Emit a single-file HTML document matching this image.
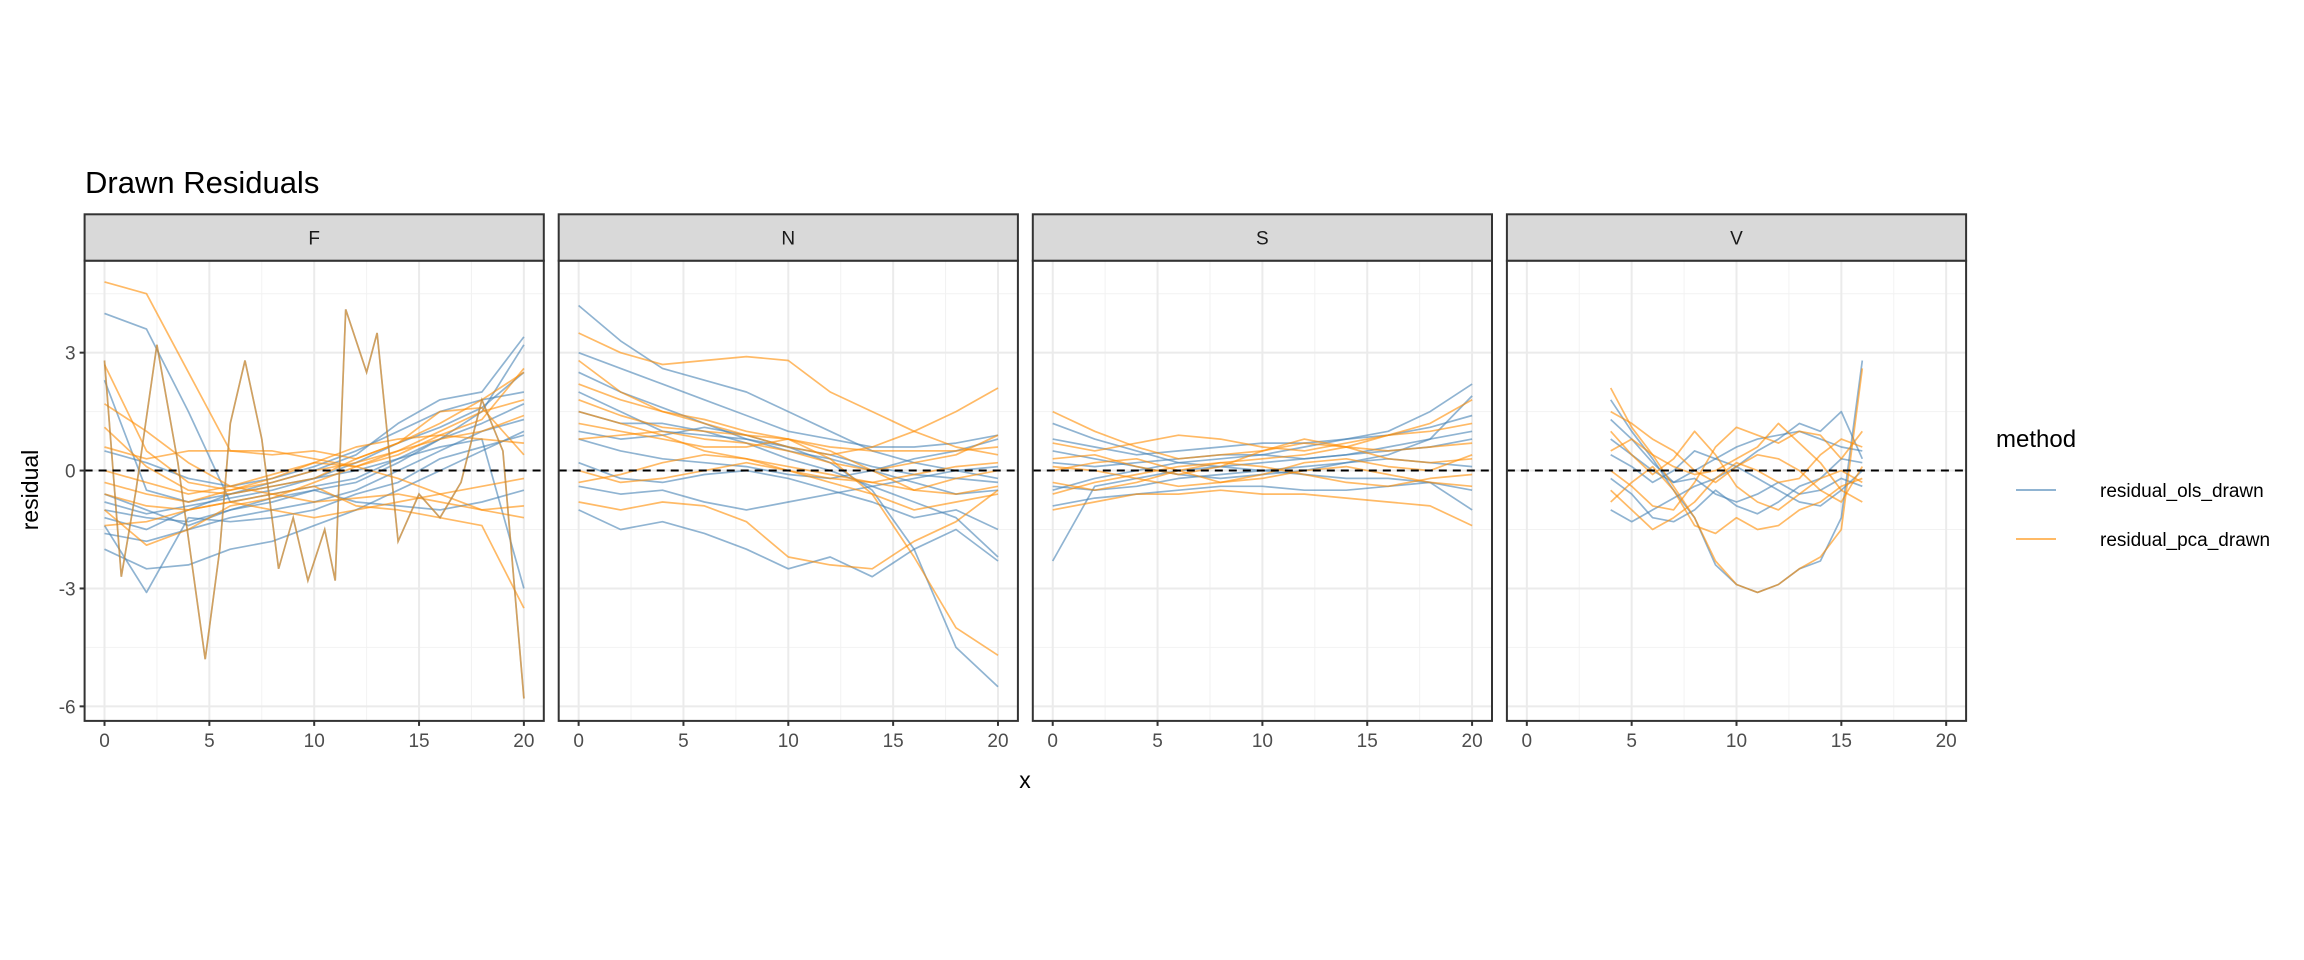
<!DOCTYPE html>
<html><head><meta charset="utf-8"><style>
html,body{margin:0;padding:0;background:#fff;}
svg{display:block;font-family:"Liberation Sans",Arial,sans-serif;}
</style></head><body>
<svg id="chart" width="2304" height="960" viewBox="0 0 2304 960" xmlns="http://www.w3.org/2000/svg">
<rect width="2304" height="960" fill="#fff"/>
<text x="85" y="193" font-size="31" fill="#000">Drawn Residuals</text>
<text transform="translate(38,490) rotate(-90)" text-anchor="middle" font-size="23" fill="#000">residual</text>
<text x="1025" y="788" text-anchor="middle" font-size="23" fill="#000">x</text>
<g id="panels"></g>
<g>
<text x="1996" y="447" font-size="24" fill="#000">method</text>
<line x1="2016" x2="2056" y1="490" y2="490" stroke="#4682B4" stroke-opacity="0.6" stroke-width="2"/>
<text x="2100" y="497" font-size="19" fill="#000">residual_ols_drawn</text>
<line x1="2016" x2="2056" y1="539" y2="539" stroke="#FF8C00" stroke-opacity="0.6" stroke-width="2"/>
<text x="2100" y="546" font-size="19" fill="#000">residual_pca_drawn</text>
</g>
</svg>
<script>
const facets = ["F","N","S","V"];
const xGrid = [0,2,4,6,8,10,12,14,16,18,20];
const xGridV = [4,5,6,7,8,9,10,11,12,13,14,15,16];
const xTicks = [0,5,10,15,20];
const yTicks = [-6,-3,0,3];
const yTickLabels = ["-6","-3","0","3"];

const olsF = [
[4.0,3.6,1.5,-0.8,-0.6,-0.4,-0.2,0.3,0.8,1.5,3.2],
[2.3,-0.5,-0.8,-0.6,-0.3,0,0.4,1.2,1.8,2.0,3.4],
[-1.0,-1.2,-1.3,-1.0,-0.8,-0.5,-0.3,0.2,0.8,1.2,1.7],
[-1.6,-1.8,-1.5,-1.2,-1.0,-0.8,-0.5,0,0.5,1.0,1.3],
[-2.0,-2.5,-2.4,-2.0,-1.8,-1.4,-1.0,-0.5,0,0.5,1.0],
[-0.6,-1.0,-1.4,-1.0,-0.7,-0.5,-0.8,-0.9,-1.0,-0.8,-0.5],
[0.5,0.2,-0.2,-0.4,-0.2,0.1,0.5,1.0,1.5,1.8,2.0],
[-1.2,-1.5,-1.0,-0.6,-0.4,-0.2,0,0.3,0.6,0.8,-3.0],
[-0.8,-1.1,-0.9,-0.7,-0.5,-0.2,0.2,0.7,1.1,1.6,2.5],
[-1.4,-3.1,-1.2,-1.3,-1.2,-1.0,-0.6,-0.3,0.3,0.6,0.9]];
const pcaF = [
[4.8,4.5,2.5,0.5,0.4,0.5,0.3,0.7,1.2,1.8,2.5],
[2.7,0.5,-0.3,-0.5,-0.2,0.2,0.1,0.4,0.9,1.3,2.6],
[-0.3,-0.6,-0.8,-0.5,-0.3,0,0.2,0.5,0.8,1.0,1.4],
[-1.4,-1.3,-1.0,-0.8,-1.0,-1.2,-1.0,-0.8,-0.6,-0.4,-0.2],
[-1.0,-1.9,-1.5,-0.9,-0.7,-0.3,0.1,0.5,1.0,1.5,1.8],
[0.6,0.3,0.5,0.5,0.5,0.3,0.1,-0.2,-0.6,-1.0,-1.2],
[1.7,1.0,0.2,-0.4,-0.6,-0.8,-0.7,-0.6,-0.8,-1.0,-0.9],
[0.0,-0.3,-0.6,-0.4,-0.1,0.2,0.6,0.8,0.9,0.8,0.7],
[-0.6,-0.9,-1.0,-0.8,-0.6,-0.4,-0.9,-1.0,-1.2,-1.4,-3.5],
[1.1,0.1,-0.5,-0.6,-0.4,-0.2,0.3,0.7,1.5,1.6,0.4]];
const spikeFx = [0,0.8,1.5,2.5,3.5,4.8,5.5,6.0,6.7,7.5,8.3,9.0,9.7,10.5,11.0,11.5,12.5,13.0,14.0,15.0,16.0,17.0,18.0,19.0,20.0];
const spikeFy = [2.8,-2.7,-0.5,3.2,0.2,-4.8,-2.0,1.2,2.8,0.8,-2.5,-1.2,-2.8,-1.5,-2.8,4.1,2.5,3.5,-1.8,-0.6,-1.2,-0.3,1.8,0.5,-5.8];

const olsN = [
[4.2,3.3,2.6,2.3,2.0,1.5,1.0,0.5,0.2,0.0,-0.2],
[2.0,1.5,1.0,0.9,0.8,0.6,0.2,-0.5,-2.0,-4.5,-5.5],
[1.5,1.2,1.2,1.0,0.7,0.3,0.0,-0.4,-0.8,-1.2,-2.2],
[0.2,-0.2,-0.3,-0.1,0,-0.2,-0.5,-0.8,-1.2,-1.0,-1.5],
[-0.4,-0.6,-0.5,-0.8,-1.0,-0.8,-0.6,-0.4,-0.2,0.0,0.1],
[1.0,0.8,0.9,1.1,0.9,0.6,0.4,0.1,-0.1,-0.2,-0.3],
[3.0,2.6,2.2,1.8,1.4,1.0,0.8,0.6,0.6,0.7,0.9],
[-1.0,-1.5,-1.3,-1.6,-2.0,-2.5,-2.2,-2.7,-2.0,-1.5,-2.3],
[0.8,0.5,0.3,0.2,0.1,-0.1,-0.2,0,0.3,0.5,0.8],
[2.5,2.0,1.6,1.2,0.8,0.5,0.3,0.0,-0.3,-0.6,-0.5]];
const pcaN = [
[3.5,3.0,2.7,2.8,2.9,2.8,2.0,1.5,1.0,0.6,0.4],
[1.8,1.4,1.1,1.0,0.9,0.8,0.3,-0.6,-2.2,-4.0,-4.7],
[2.8,2.0,1.5,1.2,0.9,0.6,0.4,0.6,1.0,1.5,2.1],
[-0.8,-1.0,-0.8,-0.9,-1.3,-2.2,-2.4,-2.5,-1.8,-1.3,-0.5],
[1.2,1.0,0.8,0.6,0.6,0.8,0.5,0.0,-0.5,-0.6,-0.4],
[0.0,-0.3,-0.2,0.0,0.2,0.0,-0.3,-0.6,-1.0,-0.8,-0.6],
[0.8,0.9,1.0,0.8,0.7,0.5,0.2,0.0,0.2,0.4,0.9],
[-0.3,-0.1,0.2,0.4,0.3,0.1,-0.1,-0.3,-0.5,-0.2,0.0],
[2.2,1.8,1.5,1.3,1.0,0.8,0.6,0.5,0.5,0.5,0.6],
[1.5,1.2,0.9,0.5,0.3,0.0,-0.2,-0.3,-0.1,0.1,0.2]];

const olsS = [
[-0.5,-0.2,0,0.2,0.3,0.4,0.6,0.8,1.0,1.5,2.2],
[0.8,0.6,0.4,0.5,0.6,0.7,0.7,0.8,0.9,1.1,1.4],
[-0.4,-0.5,-0.4,-0.2,-0.1,0,0.1,0.2,0.3,0.2,0.1],
[1.2,0.8,0.5,0.2,0.1,0.0,-0.1,-0.2,-0.2,-0.3,-0.5],
[-0.9,-0.7,-0.6,-0.5,-0.4,-0.4,-0.5,-0.5,-0.4,-0.3,-1.0],
[0.2,0.1,0.2,0.3,0.4,0.4,0.3,0.4,0.6,0.8,1.0],
[-2.3,-0.4,-0.2,0.0,0.1,0.2,0.3,0.4,0.5,0.6,0.8],
[0.5,0.3,0.1,-0.1,-0.2,-0.1,0.0,0.2,0.4,0.8,1.9]];
const pcaS = [
[-0.6,-0.3,-0.1,0.1,0.2,0.3,0.4,0.6,0.9,1.2,1.8],
[1.5,1.0,0.6,0.3,0.4,0.5,0.7,0.6,0.5,0.6,0.7],
[-1.0,-0.8,-0.6,-0.6,-0.5,-0.6,-0.6,-0.7,-0.8,-0.9,-1.4],
[0.3,0.4,0.1,-0.1,0.1,0.5,0.8,0.6,0.3,0.2,0.3],
[0.0,0.2,0.3,0.0,-0.3,-0.2,0.0,0.1,-0.1,-0.3,-0.4],
[0.7,0.5,0.7,0.9,0.8,0.6,0.5,0.7,0.9,1.0,1.2],
[-0.3,-0.5,-0.3,0.0,0.2,0.1,-0.1,-0.3,-0.4,-0.2,-0.1],
[0.1,0.0,-0.2,-0.4,-0.3,-0.1,0.2,0.3,0.1,0.0,0.4]];

const olsV = [
[1.8,1.0,0.3,-0.5,-1.2,-2.4,-2.9,-3.1,-2.9,-2.5,-2.3,-1.2,2.8],
[1.3,0.8,0.2,-0.3,0.0,0.3,0.6,0.8,0.9,1.0,0.8,0.6,0.5],
[-0.2,-0.6,-1.2,-1.3,-1.0,-0.5,-0.9,-1.1,-0.8,-0.4,-0.2,0.3,0.2],
[0.4,0.1,-0.3,0.0,0.5,0.3,0.1,-0.2,-0.5,-0.8,-0.9,-0.5,0.0],
[-1.0,-1.3,-1.0,-0.7,-0.4,-0.2,0.1,0.5,0.8,1.2,1.0,1.5,0.3],
[0.8,0.4,0.0,-0.3,-0.2,-0.6,-0.8,-0.6,-0.3,-0.6,-0.5,-0.2,-0.4]];
const pcaV = [
[2.1,1.1,0.4,-0.4,-1.2,-2.3,-2.9,-3.1,-2.9,-2.5,-2.2,-1.5,2.6],
[0.0,-0.4,-0.9,-1.0,-0.3,0.6,1.1,0.9,0.7,1.0,0.9,0.3,1.0],
[1.0,0.4,-0.1,0.3,1.0,0.4,-0.4,-0.8,-1.0,-0.6,-0.2,0.0,-0.3],
[-0.5,-1.0,-1.5,-1.2,-0.8,-0.2,0.2,0.0,-0.3,-0.2,0.4,0.8,0.6],
[0.5,0.8,0.4,0.1,-0.1,0.0,0.3,0.6,1.2,0.7,0.2,-0.5,-0.8],
[-0.8,-0.3,0.1,-0.5,-1.4,-1.6,-1.2,-1.5,-1.4,-1.0,-0.8,-0.4,-0.2],
[1.5,1.2,0.8,0.5,0.0,-0.3,0.1,0.4,0.3,0.0,-0.5,-0.8,0.1]];

const NS = "http://www.w3.org/2000/svg";
const panelW = 459.2, pitch = 474.1, left0 = 84.6;
const pTop = 260.7, pBot = 720.9, sTop = 214.3;
const xMin = -0.95, xMax = 20.95, yMin = -6.37, yMax = 5.34;
function sx(x, L){ return L + (x - xMin) / (xMax - xMin) * panelW; }
function sy(y){ return pBot - (y - yMin) / (yMax - yMin) * (pBot - pTop); }
function el(tag, attrs, parent){ const e = document.createElementNS(NS, tag); for (const k in attrs) e.setAttribute(k, attrs[k]); parent.appendChild(e); return e; }

const panelsG = document.getElementById("panels");
const data = {F:[olsF,pcaF,xGrid], N:[olsN,pcaN,xGrid], S:[olsS,pcaS,xGrid], V:[olsV,pcaV,xGridV]};

facets.forEach((f, i) => {
  const L = left0 + i * pitch;
  const g = el("g", {}, panelsG);
  
  
  // grid minor
  [2.5,7.5,12.5,17.5].forEach(v => { const l = el("line",{x1:sx(v,L),x2:sx(v,L),y1:pTop,y2:pBot,stroke:"#f2f2f2","stroke-width":1},g);   });
  [-4.5,-1.5,1.5,4.5].forEach(v => { const l = el("line",{x1:L,x2:L+panelW,y1:sy(v),y2:sy(v),stroke:"#f2f2f2","stroke-width":1},g);   });
  xTicks.forEach(v => { const l = el("line",{x1:sx(v,L),x2:sx(v,L),y1:pTop,y2:pBot,stroke:"#ebebeb","stroke-width":2},g);   });
  yTicks.forEach(v => { const l = el("line",{x1:L,x2:L+panelW,y1:sy(v),y2:sy(v),stroke:"#ebebeb","stroke-width":2},g);   });
  const [ols, pca, xs] = data[f];
  const mk = (series, col, nm) => series.forEach(s => {
    const d = s.map((y,j) => (j?"L":"M") + sx(xs[j],L).toFixed(1) + "," + sy(y).toFixed(1)).join("");
    const p = el("path",{d:d,fill:"none",stroke:col,"stroke-opacity":0.6,"stroke-width":1.7,"stroke-linejoin":"round"},g);
    
    
  });
  mk(ols, "#4682B4", "ols-line-" + f);
  mk(pca, "#FF8C00", "pca-line-" + f);
  if (f === "F") {
    ["#4682B4","#FF8C00"].forEach(col => {
      const d = spikeFx.map((x,j) => (j?"L":"M") + sx(x,L).toFixed(1) + "," + sy(spikeFy[j]).toFixed(1)).join("");
      const p = el("path",{d:d,fill:"none",stroke:col,"stroke-opacity":0.55,"stroke-width":1.7},g);
      
      
    });
  }
  const z = el("line",{x1:L,x2:L+panelW,y1:sy(0),y2:sy(0),stroke:"#000","stroke-width":2,"stroke-dasharray":"8,6"},g);
  
  
  const b = el("rect",{x:L,y:pTop,width:panelW,height:pBot-pTop,fill:"none",stroke:"#333","stroke-width":2},g);
  
  
  const st = el("rect",{x:L,y:sTop,width:panelW,height:pTop-sTop,fill:"#d9d9d9",stroke:"#333","stroke-width":2},g);
  
  
  const stt = el("text",{x:L+panelW/2,y:(sTop+pTop)/2+7,"text-anchor":"middle","font-size":19,fill:"#1a1a1a"},g);
  stt.textContent = f;
  
  
  xTicks.forEach(v => {
    const t = el("line",{x1:sx(v,L),x2:sx(v,L),y1:pBot,y2:pBot+5,stroke:"#333","stroke-width":2},g);
    
    
    const tl = el("text",{x:sx(v,L),y:pBot+26,"text-anchor":"middle","font-size":19,fill:"#4d4d4d"},g);
    tl.textContent = String(v);
    
    
  });
  if (i === 0) {
    yTicks.forEach((v,k) => {
      const t = el("line",{x1:L-5,x2:L,y1:sy(v),y2:sy(v),stroke:"#333","stroke-width":2},g);
      
      
      const tl = el("text",{x:L-9,y:sy(v)+7,"text-anchor":"end","font-size":19,fill:"#4d4d4d"},g);
      tl.textContent = yTickLabels[k];
      
      
    });
  }
});
</script>
</body></html>
